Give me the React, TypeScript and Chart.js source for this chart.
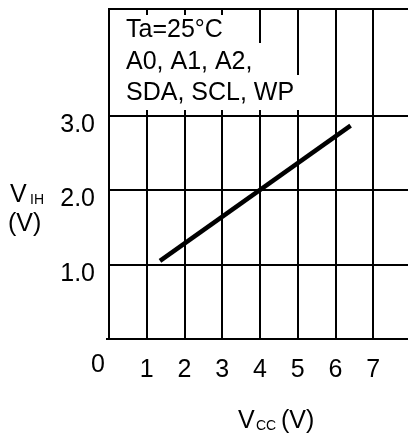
import React, { useEffect, useRef } from "react";
import { Chart, registerables } from "chart.js";

Chart.register(...registerables);

// ---- data ----
const xTickValues = [1, 2, 3, 4, 5, 6, 7];
const yTickValues = [1, 2, 3];
const vccValues = [1.35, 6.4];
const vihValues = [1.05, 2.87];
const annotationLines = ["Ta=25°C", "A0, A1, A2,", "SDA, SCL, WP"];
const xMax = 7.92;
const yMax = 4.44;

const FONT = "'Liberation Sans', Arial, sans-serif";

const overlayPlugin = {
  id: "overlay",
  afterDatasetsDraw(chart: any) {
    const ctx = chart.ctx as CanvasRenderingContext2D;
    const xs = chart.scales.x;
    const ys = chart.scales.y;
    const left = chart.chartArea.left;
    ctx.save();
    // annotation boxes (each line with its own white background)
    const rowTops = [15, 43, 75];
    const rowBottoms = [43, 75, 110];
    const rowRights = [245, 270, 305];
    ctx.fillStyle = "#ffffff";
    for (let i = 0; i < annotationLines.length; i++) {
      ctx.fillRect(left + 1, rowTops[i], rowRights[i] - left - 1, rowBottoms[i] - rowTops[i]);
    }
    ctx.fillStyle = "#000000";
    ctx.font = `25px ${FONT}`;
    ctx.textAlign = "left";
    ctx.textBaseline = "alphabetic";
    const baselines = [37, 69, 100];
    annotationLines.forEach((t, i) => ctx.fillText(t, 126, baselines[i]));

    // extend bottom axis line slightly left
    ctx.fillRect(106, ys.getPixelForValue(0) - 1, 4, 2);

    // origin label "0"
    ctx.textAlign = "center";
    ctx.textBaseline = "middle";
    ctx.fillText("0", xs.getPixelForValue(0) - 11, 365);

    // x axis title V_CC (V)
    ctx.textAlign = "left";
    ctx.textBaseline = "alphabetic";
    ctx.font = `25px ${FONT}`;
    ctx.fillText("V", 238, 428);
    ctx.font = `14px ${FONT}`;
    ctx.fillText("CC", 256, 430);
    ctx.font = `25px ${FONT}`;
    ctx.fillText("(V)", 281, 428);

    // y axis title V_IH (V)
    ctx.fillText("V", 10, 201.5);
    ctx.font = `14px ${FONT}`;
    ctx.fillText("IH", 30, 203.5);
    ctx.font = `25px ${FONT}`;
    ctx.fillText("(V)", 8, 230.5);
    ctx.restore();
  },
};

export default function App() {
  const canvasRef = useRef<HTMLCanvasElement | null>(null);

  useEffect(() => {
    if (!canvasRef.current) return;
    const chart = new Chart(canvasRef.current, {
      type: "scatter",
      data: {
        datasets: [
          {
            data: vccValues.map((x, i) => ({ x, y: vihValues[i] })),
            showLine: true,
            borderColor: "#000000",
            borderWidth: 4.5,
            borderCapStyle: "butt",
            pointRadius: 0,
            pointHoverRadius: 0,
            fill: false,
          },
        ],
      },
      options: {
        responsive: false,
        animation: false,
        events: [],
        layout: { padding: { top: 9, right: 0, left: 0, bottom: 0 } },
        plugins: {
          legend: { display: false },
          tooltip: { enabled: false },
          title: { display: false },
        },
        scales: {
          x: {
            type: "linear",
            min: 0,
            max: xMax,
            afterBuildTicks: (scale: any) => {
              scale.ticks = [0, ...xTickValues].map((v) => ({ value: v }));
            },
            afterFit: (scale: any) => {
              scale.height = 96;
              scale.paddingLeft = 0;
              scale.paddingRight = 0;
              scale.paddingTop = 0;
              scale.paddingBottom = 0;
            },
            ticks: {
              autoSkip: false,
              maxRotation: 0,
              padding: 16,
              color: "#000000",
              font: { family: FONT, size: 25 },
              callback: (v: any) => (xTickValues.includes(Number(v)) ? String(v) : ""),
            },
            grid: { color: "#000000", lineWidth: 2, drawTicks: false, tickLength: 0 },
            border: { display: true, color: "#000000", width: 2 },
          },
          y: {
            type: "linear",
            min: 0,
            max: yMax,
            afterBuildTicks: (scale: any) => {
              scale.ticks = [0, ...yTickValues, yMax].map((v) => ({ value: v }));
            },
            afterFit: (scale: any) => {
              scale.width = 109;
              scale.paddingLeft = 0;
              scale.paddingRight = 0;
              scale.paddingTop = 0;
              scale.paddingBottom = 0;
            },
            ticks: {
              autoSkip: false,
              padding: 14,
              labelOffset: 9,
              color: "#000000",
              font: { family: FONT, size: 25 },
              callback: (v: any) => (yTickValues.includes(Number(v)) ? Number(v).toFixed(1) : ""),
            },
            grid: { color: "#000000", lineWidth: 2, drawTicks: false, tickLength: 0 },
            border: { display: true, color: "#000000", width: 2 },
          },
        },
      },
      plugins: [overlayPlugin],
    } as any);
    return () => chart.destroy();
  }, []);

  return (
    <div style={{ position: "absolute", left: 0, top: 0, width: 408, height: 435, background: "#fff" }}>
      <canvas ref={canvasRef} width={408} height={435} style={{ display: "block" }} />
    </div>
  );
}
